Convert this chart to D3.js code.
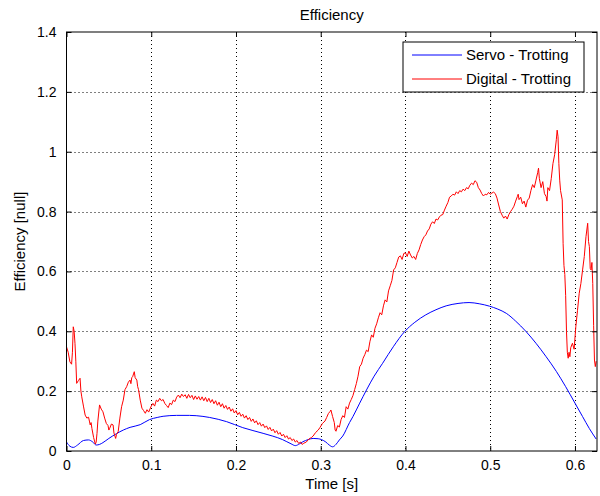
<!DOCTYPE html>
<html>
<head>
<meta charset="utf-8">
<script src="https://cdn.jsdelivr.net/npm/d3@7"></script>
<style>
  body { margin: 0; background: #fff; }
  text { font-family: "Liberation Sans", Arial, sans-serif; fill: #000; }
</style>
</head>
<body>
<div id="chart"></div>
<script>
const xTicks = [0, 0.1, 0.2, 0.3, 0.4, 0.5, 0.6];
const yTicks = [0, 0.2, 0.4, 0.6, 0.8, 1, 1.2, 1.4];
const seriesNames = ['Servo - Trotting', 'Digital - Trotting'];
const seriesColors = ['#0000ff', '#ff0000'];

// [time, efficiency]
const servo = [
  [0.000, 0.030], [0.004, 0.016], [0.008, 0.012], [0.013, 0.020], [0.020, 0.035],
  [0.026, 0.037], [0.031, 0.030], [0.035, 0.020], [0.039, 0.022], [0.043, 0.028],
  [0.050, 0.042], [0.059, 0.058], [0.067, 0.070], [0.075, 0.079], [0.087, 0.088],
  [0.098, 0.105], [0.107, 0.112], [0.114, 0.116], [0.130, 0.119], [0.145, 0.119],
  [0.153, 0.118], [0.169, 0.112], [0.189, 0.098], [0.208, 0.078], [0.232, 0.059],
  [0.255, 0.038], [0.265, 0.024], [0.270, 0.018], [0.275, 0.024], [0.279, 0.031],
  [0.285, 0.038], [0.291, 0.042], [0.297, 0.041], [0.301, 0.038], [0.306, 0.030],
  [0.310, 0.020], [0.314, 0.014], [0.318, 0.022], [0.322, 0.037], [0.326, 0.050],
  [0.334, 0.095], [0.338, 0.115], [0.346, 0.160], [0.354, 0.204], [0.363, 0.250],
  [0.373, 0.293], [0.386, 0.350], [0.399, 0.399], [0.411, 0.430], [0.424, 0.455],
  [0.436, 0.472], [0.448, 0.485], [0.462, 0.493], [0.475, 0.496], [0.487, 0.492],
  [0.499, 0.484], [0.509, 0.474], [0.519, 0.460], [0.530, 0.434], [0.542, 0.400],
  [0.554, 0.360], [0.566, 0.315], [0.578, 0.266], [0.589, 0.215], [0.600, 0.160],
  [0.609, 0.115], [0.617, 0.075], [0.625, 0.040]
];

const digital = [
  [0.000, 0.348], [0.002, 0.330], [0.004, 0.298], [0.006, 0.290], [0.007, 0.330],
  [0.008, 0.415], [0.009, 0.400], [0.010, 0.360], [0.011, 0.300], [0.012, 0.226],
  [0.014, 0.235], [0.016, 0.243], [0.017, 0.200], [0.018, 0.181], [0.020, 0.150],
  [0.022, 0.120], [0.024, 0.110], [0.026, 0.113], [0.027, 0.100], [0.028, 0.087],
  [0.029, 0.095], [0.030, 0.075], [0.032, 0.045], [0.034, 0.023], [0.035, 0.030],
  [0.036, 0.059], [0.037, 0.100], [0.039, 0.154], [0.041, 0.140], [0.043, 0.131],
  [0.045, 0.110], [0.047, 0.092], [0.049, 0.085], [0.050, 0.070], [0.051, 0.076],
  [0.053, 0.090], [0.055, 0.087], [0.056, 0.060], [0.058, 0.042], [0.059, 0.055],
  [0.061, 0.065], [0.063, 0.110], [0.065, 0.148], [0.067, 0.170], [0.069, 0.205],
  [0.071, 0.215], [0.073, 0.230], [0.075, 0.237], [0.076, 0.225], [0.077, 0.245],
  [0.078, 0.248], [0.080, 0.265], [0.081, 0.245], [0.083, 0.237], [0.084, 0.215],
  [0.085, 0.205], [0.087, 0.170], [0.089, 0.143], [0.091, 0.135], [0.093, 0.126],
  [0.095, 0.138], [0.097, 0.130], [0.098, 0.137], [0.100, 0.150], [0.102, 0.159],
  [0.104, 0.150], [0.106, 0.170], [0.108, 0.165], [0.110, 0.176], [0.112, 0.168],
  [0.114, 0.172], [0.116, 0.159], [0.118, 0.152], [0.120, 0.145], [0.122, 0.160],
  [0.124, 0.155], [0.126, 0.170], [0.128, 0.165], [0.130, 0.180], [0.132, 0.187],
  [0.134, 0.178], [0.136, 0.190], [0.138, 0.182], [0.140, 0.188], [0.142, 0.176],
  [0.144, 0.189], [0.146, 0.178], [0.148, 0.186], [0.150, 0.172], [0.152, 0.184],
  [0.154, 0.173], [0.156, 0.182], [0.158, 0.170], [0.160, 0.181], [0.162, 0.168],
  [0.164, 0.179], [0.166, 0.165], [0.168, 0.176], [0.170, 0.162], [0.172, 0.172],
  [0.174, 0.158], [0.176, 0.168], [0.178, 0.153], [0.180, 0.163], [0.182, 0.148],
  [0.184, 0.158], [0.186, 0.143], [0.188, 0.152], [0.190, 0.139], [0.192, 0.147],
  [0.194, 0.133], [0.196, 0.141], [0.198, 0.127], [0.200, 0.135], [0.202, 0.121],
  [0.204, 0.129], [0.206, 0.116], [0.208, 0.123], [0.210, 0.110], [0.212, 0.118],
  [0.214, 0.105], [0.216, 0.112], [0.218, 0.099], [0.220, 0.107], [0.222, 0.094],
  [0.224, 0.101], [0.226, 0.088], [0.228, 0.095], [0.230, 0.083], [0.232, 0.090],
  [0.234, 0.078], [0.236, 0.084], [0.238, 0.072], [0.240, 0.079], [0.242, 0.067],
  [0.244, 0.073], [0.246, 0.061], [0.248, 0.068], [0.250, 0.056], [0.252, 0.062],
  [0.254, 0.050], [0.256, 0.056], [0.258, 0.045], [0.260, 0.051], [0.262, 0.040],
  [0.264, 0.045], [0.266, 0.035], [0.268, 0.040], [0.270, 0.030], [0.272, 0.035],
  [0.274, 0.025], [0.276, 0.030], [0.278, 0.022], [0.280, 0.026], [0.283, 0.030],
  [0.286, 0.040], [0.289, 0.045], [0.291, 0.050], [0.294, 0.062], [0.297, 0.070],
  [0.299, 0.078], [0.302, 0.092], [0.305, 0.100], [0.307, 0.112], [0.309, 0.125],
  [0.311, 0.132], [0.312, 0.137], [0.314, 0.115], [0.316, 0.095], [0.317, 0.070],
  [0.318, 0.066], [0.320, 0.085], [0.322, 0.080], [0.324, 0.105], [0.326, 0.118],
  [0.328, 0.112], [0.330, 0.148], [0.332, 0.140], [0.334, 0.160], [0.336, 0.172],
  [0.338, 0.185], [0.340, 0.205], [0.342, 0.225], [0.344, 0.250], [0.346, 0.282],
  [0.348, 0.290], [0.350, 0.310], [0.352, 0.322], [0.354, 0.337], [0.356, 0.332],
  [0.358, 0.365], [0.360, 0.388], [0.362, 0.380], [0.364, 0.410], [0.366, 0.425],
  [0.368, 0.445], [0.370, 0.462], [0.372, 0.455], [0.374, 0.485], [0.376, 0.505],
  [0.378, 0.498], [0.380, 0.535], [0.382, 0.552], [0.384, 0.570], [0.386, 0.605],
  [0.388, 0.612], [0.390, 0.630], [0.392, 0.648], [0.394, 0.652], [0.396, 0.640],
  [0.398, 0.660], [0.400, 0.662], [0.402, 0.650], [0.404, 0.668], [0.406, 0.655],
  [0.408, 0.645], [0.410, 0.650], [0.412, 0.640], [0.414, 0.660], [0.416, 0.672],
  [0.418, 0.690], [0.420, 0.705], [0.422, 0.716], [0.424, 0.722], [0.426, 0.735],
  [0.428, 0.742], [0.430, 0.758], [0.432, 0.766], [0.434, 0.760], [0.436, 0.775],
  [0.438, 0.772], [0.440, 0.782], [0.442, 0.788], [0.444, 0.790], [0.446, 0.805],
  [0.448, 0.818], [0.450, 0.830], [0.452, 0.848], [0.454, 0.852], [0.456, 0.858],
  [0.458, 0.855], [0.460, 0.866], [0.462, 0.860], [0.464, 0.870], [0.466, 0.866],
  [0.468, 0.875], [0.470, 0.870], [0.472, 0.880], [0.474, 0.876], [0.476, 0.888],
  [0.478, 0.895], [0.480, 0.890], [0.482, 0.903], [0.484, 0.898], [0.486, 0.880],
  [0.488, 0.872], [0.490, 0.860], [0.492, 0.852], [0.494, 0.858], [0.496, 0.856],
  [0.498, 0.864], [0.500, 0.858], [0.502, 0.862], [0.504, 0.865], [0.506, 0.860],
  [0.508, 0.845], [0.510, 0.822], [0.512, 0.800], [0.514, 0.788], [0.516, 0.778],
  [0.518, 0.785], [0.520, 0.775], [0.522, 0.790], [0.524, 0.800], [0.526, 0.808],
  [0.528, 0.818], [0.530, 0.835], [0.532, 0.850], [0.533, 0.858], [0.534, 0.840],
  [0.536, 0.848], [0.538, 0.826], [0.540, 0.835], [0.542, 0.815], [0.544, 0.838],
  [0.546, 0.845], [0.548, 0.870], [0.550, 0.890], [0.552, 0.880], [0.554, 0.905],
  [0.556, 0.930], [0.557, 0.945], [0.558, 0.910], [0.560, 0.880], [0.562, 0.900],
  [0.564, 0.860], [0.566, 0.850], [0.567, 0.835], [0.568, 0.880], [0.570, 0.870],
  [0.572, 0.910], [0.574, 0.960], [0.576, 0.990], [0.578, 1.040], [0.579, 1.072],
  [0.580, 1.050], [0.581, 0.960], [0.582, 0.905], [0.583, 0.870], [0.585, 0.839],
  [0.586, 0.694], [0.587, 0.620], [0.588, 0.590], [0.589, 0.520], [0.590, 0.400],
  [0.591, 0.330], [0.592, 0.310], [0.593, 0.330], [0.594, 0.315], [0.595, 0.345],
  [0.597, 0.360], [0.599, 0.340], [0.601, 0.415], [0.603, 0.470], [0.605, 0.527],
  [0.607, 0.560], [0.609, 0.605], [0.611, 0.650], [0.613, 0.716], [0.615, 0.761],
  [0.616, 0.700], [0.617, 0.683], [0.618, 0.610], [0.619, 0.605], [0.620, 0.630],
  [0.621, 0.560], [0.622, 0.420], [0.623, 0.304], [0.624, 0.282], [0.625, 0.300]
];

const width = 600;
const height = 496;
const margin = { top: 32, right: 3, bottom: 45, left: 66.5 };

const svg = d3.select('#chart').append('svg').attr('width', width).attr('height', height);

const x = d3.scaleLinear().domain([0, 0.626]).range([margin.left, width - margin.right]);
const y = d3.scaleLinear().domain([0, 1.4]).range([height - margin.bottom, margin.top]);

const plotW = width - margin.right - margin.left;
const plotH = height - margin.bottom - margin.top;

// dotted grid
svg.append('g')
  .selectAll('line')
  .data(xTicks.slice(1))
  .join('line')
  .attr('x1', (d) => Math.round(x(d)) + 0.5)
  .attr('x2', (d) => Math.round(x(d)) + 0.5)
  .attr('y1', margin.top)
  .attr('y2', height - margin.bottom)
  .attr('stroke', '#000')
  .attr('stroke-dasharray', '1,3');

svg.append('g')
  .selectAll('line')
  .data(yTicks.slice(1, -1))
  .join('line')
  .attr('x1', margin.left)
  .attr('x2', width - margin.right)
  .attr('y1', (d) => Math.round(y(d)) + 0.5)
  .attr('y2', (d) => Math.round(y(d)) + 0.5)
  .attr('stroke', '#000')
  .attr('stroke-dasharray', '1,3');

const servoLine = d3.line().x((d) => x(d[0])).y((d) => y(d[1])).curve(d3.curveMonotoneX);
const digitalLine = d3.line().x((d) => x(d[0])).y((d) => y(d[1]));

svg.append('path')
  .datum(servo)
  .attr('d', servoLine)
  .attr('fill', 'none')
  .attr('stroke', seriesColors[0])
  .attr('stroke-width', 1);

svg.append('path')
  .datum(digital)
  .attr('d', digitalLine)
  .attr('fill', 'none')
  .attr('stroke', seriesColors[1])
  .attr('stroke-width', 1);

// axes with inward ticks on all sides
const axisB = svg.append('g')
  .attr('transform', `translate(0,${height - margin.bottom})`)
  .call(d3.axisBottom(x).tickValues(xTicks).tickSizeInner(-5).tickSizeOuter(0).tickPadding(9).tickFormat(d3.format('')));
const axisT = svg.append('g')
  .attr('transform', `translate(0,${margin.top})`)
  .call(d3.axisTop(x).tickValues(xTicks).tickSizeInner(-5).tickSizeOuter(0).tickFormat(''));
const axisL = svg.append('g')
  .attr('transform', `translate(${margin.left},0)`)
  .call(d3.axisLeft(y).tickValues(yTicks).tickSizeInner(-5).tickSizeOuter(0).tickPadding(10).tickFormat(d3.format('')));
const axisR = svg.append('g')
  .attr('transform', `translate(${width - margin.right},0)`)
  .call(d3.axisRight(y).tickValues(yTicks).tickSizeInner(-5).tickSizeOuter(0).tickFormat(''));

[axisB, axisT, axisL, axisR].forEach((g) => {
  g.select('.domain').remove();
  g.selectAll('text').attr('font-size', 14).attr('font-family', '"Liberation Sans", Arial, sans-serif');
});

svg.append('rect')
  .attr('x', margin.left)
  .attr('y', margin.top)
  .attr('width', plotW)
  .attr('height', plotH)
  .attr('fill', 'none')
  .attr('stroke', '#000');

// titles
svg.append('text')
  .attr('x', margin.left + plotW / 2)
  .attr('y', 20)
  .attr('text-anchor', 'middle')
  .attr('font-size', 15)
  .text('Efficiency');

svg.append('text')
  .attr('x', margin.left + plotW / 2)
  .attr('y', 489)
  .attr('text-anchor', 'middle')
  .attr('font-size', 15)
  .text('Time [s]');

svg.append('text')
  .attr('transform', `translate(25,${margin.top + plotH / 2}) rotate(-90)`)
  .attr('text-anchor', 'middle')
  .attr('font-size', 15)
  .text('Efficiency [null]');

// legend
const legend = svg.append('g').attr('transform', 'translate(403,42)');
legend.append('rect')
  .attr('width', 181)
  .attr('height', 50)
  .attr('fill', '#fff')
  .attr('stroke', '#000');

const items = legend.selectAll('g.item')
  .data(seriesNames)
  .join('g')
  .attr('class', 'item')
  .attr('transform', (d, i) => `translate(0,${13 + i * 24})`);

items.append('line')
  .attr('x1', 9)
  .attr('x2', 59)
  .attr('stroke', (d, i) => seriesColors[i]);

items.append('text')
  .attr('x', 63)
  .attr('dy', '0.35em')
  .attr('font-size', 15)
  .text((d) => d);
</script>
</body>
</html>
